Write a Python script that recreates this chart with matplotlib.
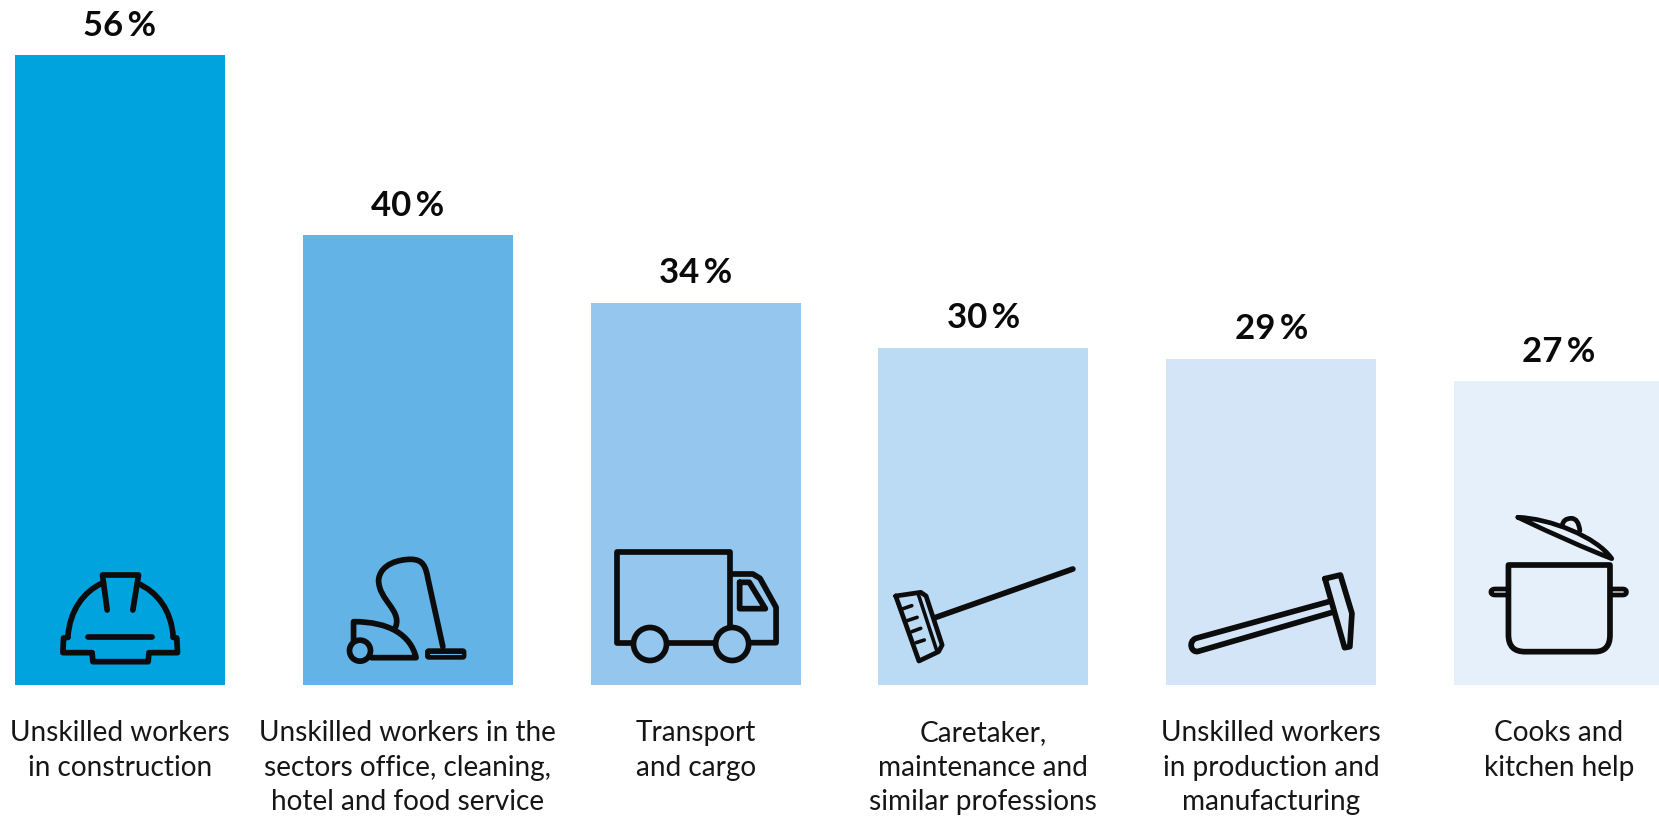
import matplotlib
matplotlib.use("Agg")
import matplotlib.pyplot as plt
from matplotlib.path import Path
from matplotlib.patches import PathPatch, Ellipse, FancyBboxPatch

plt.rcParams['font.family'] = ['Lato', 'DejaVu Sans']

categories = [
    "Unskilled workers\nin construction",
    "Unskilled workers in the\nsectors office, cleaning,\nhotel and food service",
    "Transport\nand cargo",
    "Caretaker,\nmaintenance and\nsimilar professions",
    "Unskilled workers\nin production and\nmanufacturing",
    "Cooks and\nkitchen help",
]
values = [56, 40, 34, 30, 29, 27]
colors = ["#00A3DE", "#64B3E6", "#95C6ED", "#BBDAF4", "#D3E5F6", "#E6F0FA"]

W, H = 1659, 819
ICON_LW = 4.1
THIN_LW = 3.4
INK = "#0c0c0c"

fig = plt.figure(figsize=(W / 100, H / 100), dpi=100, facecolor="white")

# bars, x unit = one bar slot, y unit = one percent
ax = fig.add_axes([0, 0, 1, 1])
slot = 287.8
per_pct = 11.25
for i, (v, c) in enumerate(zip(values, colors)):
    ax.bar(i, v, width=210 / slot, color=c, linewidth=0)
    ax.annotate(f"{v}\u2009%", (i, v), xytext=(0, 14), textcoords="offset points",
                ha="center", va="baseline", fontsize=25, fontweight="bold", color="#0a0a0a")
    ax.annotate(categories[i], (i, 0), xytext=(0, -25), textcoords="offset points",
                ha="center", va="top", fontsize=20.2, color="#161616", linespacing=1.42)
ax.set_xlim(-120 / slot, (W - 120) / slot)
ax.set_ylim(-(H - 685) / per_pct, 685 / per_pct)
ax.axis("off")

# icons are drawn on a second layer measured in pixels
ov = fig.add_axes([0, 0, 1, 1], facecolor="none")
ov.set_xlim(0, W)
ov.set_ylim(H, 0)
ov.axis("off")


def stroke(ox, oy, sx, verts, codes=None, lw=ICON_LW, color=INK, fill="none"):
    pts = [(ox + x / sx, oy + y / 3) for x, y in verts]
    if codes is None:
        codes = [Path.MOVETO] + [Path.LINETO] * (len(pts) - 1)
    ov.add_patch(PathPatch(Path(pts, codes), facecolor=fill, edgecolor=color, lw=lw,
                           capstyle="round", joinstyle="round"))


def wheel(ox, oy, sx, cx, cy, r, fill):
    ov.add_patch(Ellipse((ox + cx / sx, oy + cy / 3), 2 * r, 2 * r, facecolor=fill,
                         edgecolor=INK, lw=ICON_LW))


# helmet
hx, hy, hs = 0, 520, 2.8
stroke(hx, hy, hs, [(190, 352), (195, 270), (235, 215), (285, 190)],
       [Path.MOVETO, Path.CURVE4, Path.CURVE4, Path.CURVE4])
stroke(hx, hy, hs, [(385, 190), (440, 215), (480, 270), (485, 352)],
       [Path.MOVETO, Path.CURVE4, Path.CURVE4, Path.CURVE4])
stroke(hx, hy, hs, [(190, 352), (178, 354), (176, 398), (258, 398), (260, 425),
                    (415, 425), (417, 398), (497, 398), (495, 354), (485, 352)])
stroke(hx, hy, hs, [(300, 270), (287, 165), (388, 165), (372, 270)])
stroke(hx, hy, hs, [(245, 352), (425, 352)])

# vacuum cleaner
stroke(hx, hy, hs, [(1108, 320), (1125, 270), (1060, 240), (1060, 180), (1065, 130), (1120, 118),
                    (1150, 118), (1185, 118), (1192, 140), (1198, 175), (1240, 380)],
       [Path.MOVETO] + [Path.CURVE4] * 9 + [Path.LINETO])
stroke(hx, hy, hs, [(990, 362), (990, 305), (1090, 305), (1150, 345), (1165, 413), (1040, 413)],
       [Path.MOVETO, Path.LINETO, Path.CURVE4, Path.CURVE4, Path.CURVE4, Path.LINETO])
wheel(hx, hy, hs, 1008, 392, 10.5, "#64B3E6")
ov.add_patch(FancyBboxPatch((hx + 1192 / hs, hy + 387 / 3), 112 / hs, 30 / 3,
                            boxstyle="round,pad=0,rounding_size=3", facecolor=INK, edgecolor=INK, lw=1))
stroke(hx, hy, hs, [(1205, 401), (1290, 401)], lw=0.8, color="#64B3E6")

# truck
tx, ty, ts = 560, 520, 2.8
stroke(tx, ty, ts, [(205, 370), (160, 370), (160, 97), (475, 97), (475, 325)])
stroke(tx, ty, ts, [(300, 368), (435, 368)])
stroke(tx, ty, ts, [(480, 162), (540, 162), (560, 175), (605, 262), (605, 368), (530, 368)])
stroke(tx, ty, ts, [(503, 187), (530, 187), (575, 266), (503, 266), (503, 187)])
wheel(tx, ty, ts, 252, 372, 16.5, "#95C6ED")
wheel(tx, ty, ts, 482, 372, 16.5, "#95C6ED")

# broom
stroke(tx, ty, ts, [(1050, 293), (1436, 147)])
stroke(tx, ty, ts, [(940, 228), (1010, 217), (1025, 228), (1070, 375), (1060, 395), (1005, 423), (940, 228)], lw=THIN_LW)
stroke(tx, ty, ts, [(1003, 222), (1055, 392)], lw=2.6)
stroke(tx, ty, ts, [(958, 267), (985, 257)], lw=2.6)
stroke(tx, ty, ts, [(972, 302), (1000, 292)], lw=2.6)
stroke(tx, ty, ts, [(985, 335), (1010, 325)], lw=2.6)
stroke(tx, ty, ts, [(997, 368), (1020, 360)], lw=2.6)

# hammer
ax_x, ax_y, ax_s = 1110, 480, 1568 / 549
stroke(ax_x, ax_y, ax_s, [(625, 365), (245, 475), (222, 485), (232, 520), (252, 514), (635, 397)],
       [Path.MOVETO, Path.LINETO, Path.CURVE4, Path.CURVE4, Path.CURVE4, Path.LINETO])
stroke(ax_x, ax_y, ax_s, [(614, 296), (658, 285), (691, 400), (685, 500), (670, 503), (614, 296)])

# pot
stroke(ax_x, ax_y, ax_s, [(1138, 255), (1428, 255), (1428, 465), (1428, 515), (1385, 515), (1185, 515),
                          (1138, 515), (1138, 465), (1138, 255)],
       [Path.MOVETO, Path.LINETO, Path.LINETO, Path.CURVE3, Path.CURVE3, Path.LINETO,
        Path.CURVE3, Path.CURVE3, Path.CLOSEPOLY])
stroke(ax_x, ax_y, ax_s, [(1135, 327), (1100, 327), (1088, 327), (1088, 336), (1088, 345), (1100, 345), (1135, 345)],
       [Path.MOVETO, Path.LINETO, Path.CURVE3, Path.CURVE3, Path.CURVE3, Path.CURVE3, Path.LINETO], lw=THIN_LW)
stroke(ax_x, ax_y, ax_s, [(1430, 327), (1465, 327), (1475, 327), (1475, 336), (1475, 345), (1465, 345), (1430, 345)],
       [Path.MOVETO, Path.LINETO, Path.CURVE3, Path.CURVE3, Path.CURVE3, Path.CURVE3, Path.LINETO], lw=THIN_LW)
stroke(ax_x, ax_y, ax_s, [(1165, 112), (1255, 115), (1390, 170), (1433, 236), (1320, 190), (1165, 112)],
       [Path.MOVETO, Path.CURVE4, Path.CURVE4, Path.CURVE4, Path.CURVE3, Path.CURVE3], lw=THIN_LW)
stroke(ax_x, ax_y, ax_s, [(1292, 135), (1295, 115), (1318, 115), (1338, 115), (1342, 152)],
       [Path.MOVETO, Path.CURVE3, Path.CURVE3, Path.CURVE3, Path.CURVE3], lw=THIN_LW)

fig.savefig("out.png", dpi=100)
